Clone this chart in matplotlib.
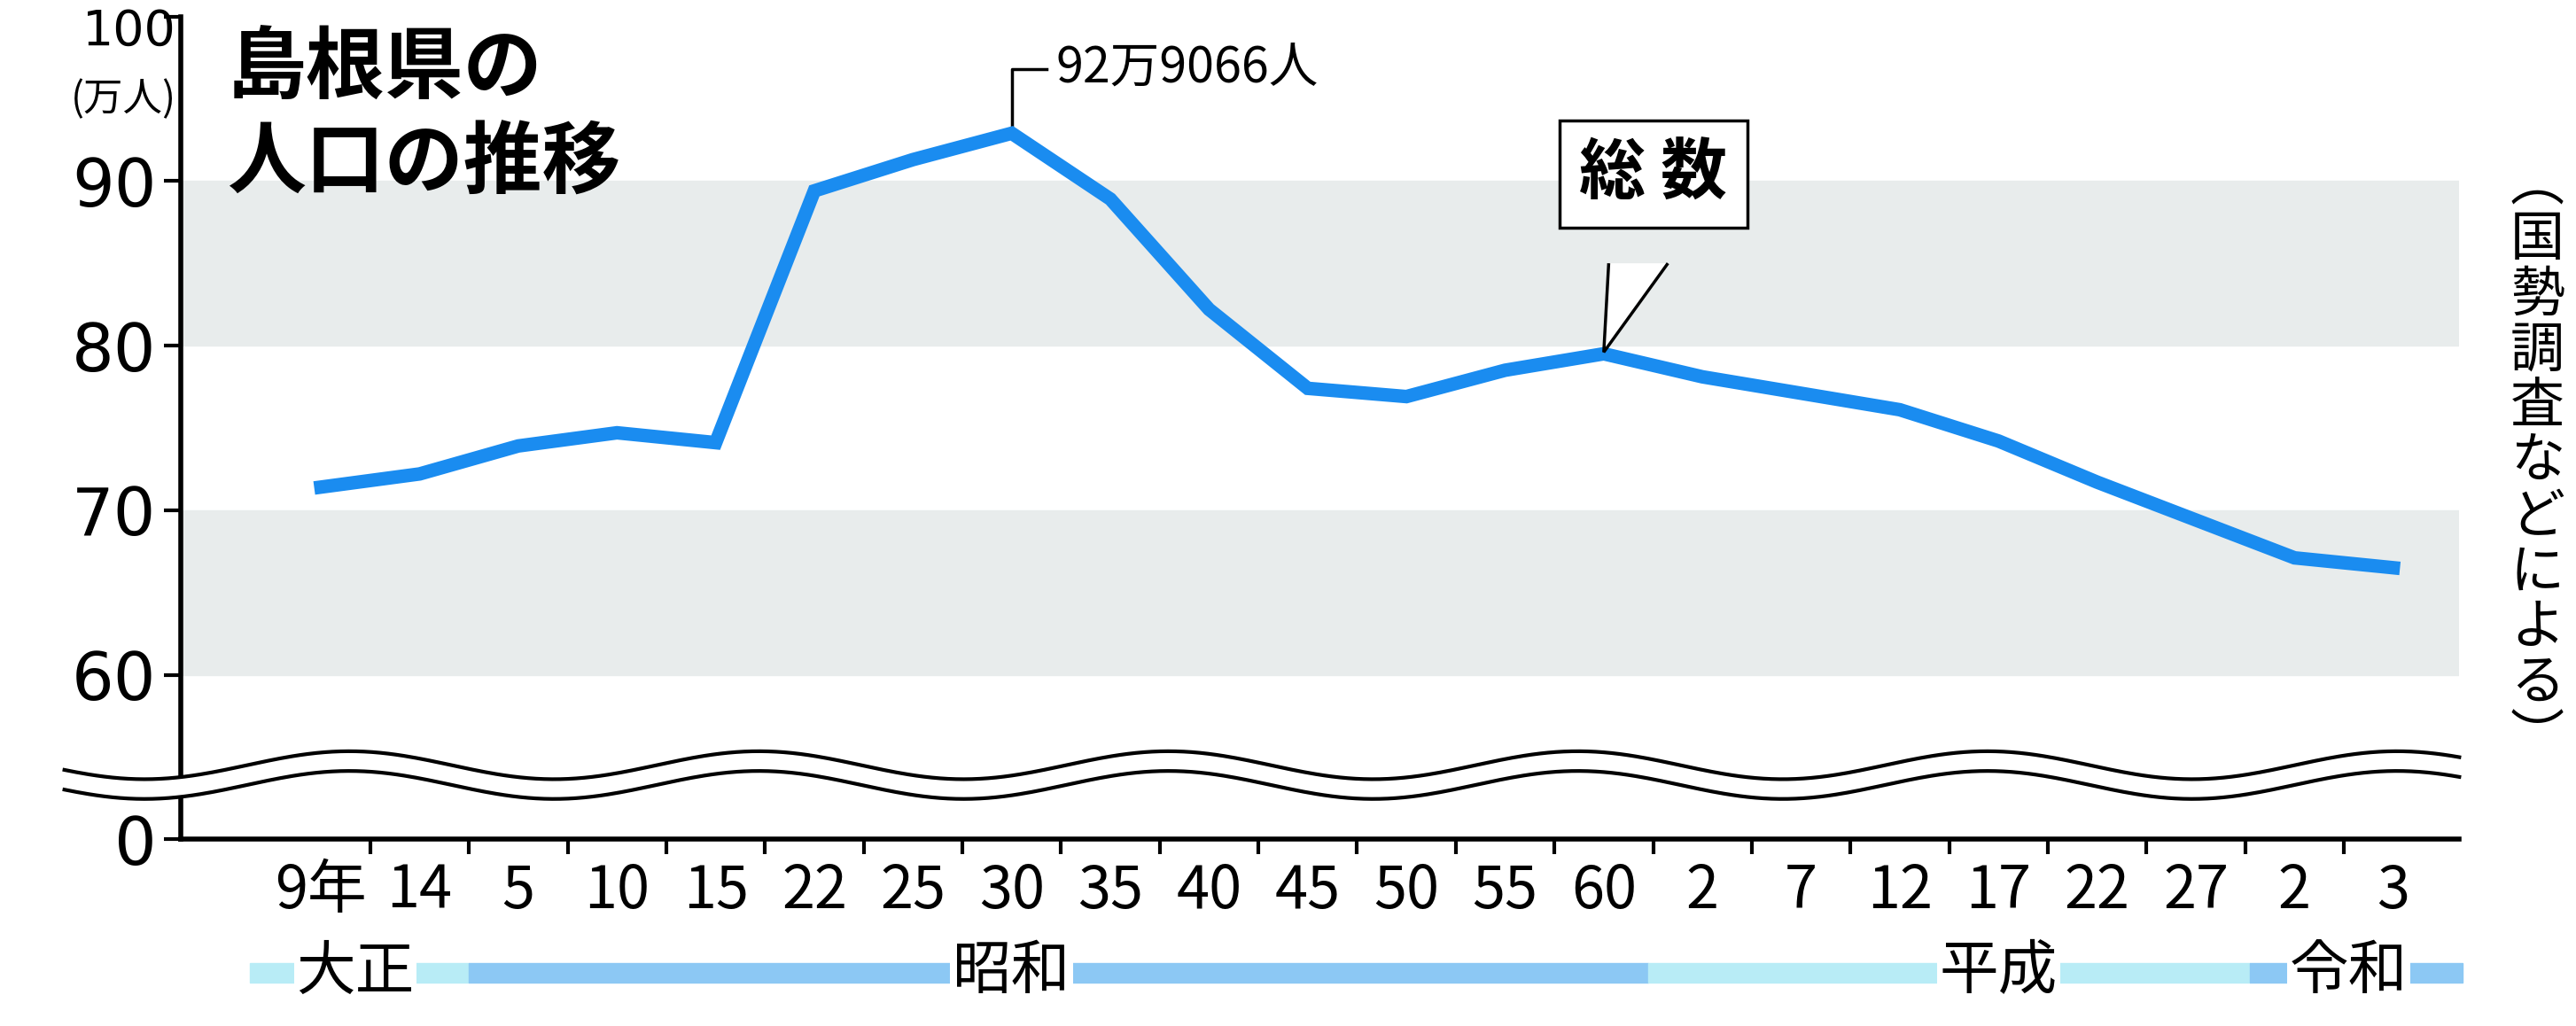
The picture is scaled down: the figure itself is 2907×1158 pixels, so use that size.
import numpy as np
import matplotlib.pyplot as plt
from matplotlib.patches import Rectangle, Polygon

plt.rcParams['font.family'] = ['Noto Sans CJK JP', 'DejaVu Sans']

labels = ["9年","14","5","10","15","22","25","30","35","40","45","50","55","60","2","7","12","17","22","27","2","3"]
pop = [71.4,72.2,73.9,74.7,74.1,89.4,91.3,92.9,88.9,82.2,77.4,76.9,78.5,79.5,78.1,77.1,76.1,74.2,71.7,69.4,67.1,66.5]
ytick_vals = [0,60,70,80,90,100]
eras = [("大正",-0.72,1.5,"#b8ecf6"),("昭和",1.5,13.45,"#8cc8f4"),("平成",13.45,19.55,"#b8ecf6"),("令和",19.55,21.7,"#8cc8f4")]
era_lab_x = {"大正":0.35,"昭和":7.0,"平成":17.0,"令和":20.55}

fig = plt.figure(figsize=(29.07,11.58), dpi=100)
ax = fig.add_axes([0.0702,0.182,0.8845,0.802])
x = np.arange(len(pop))
ax.set_xlim(-1.42,21.67)
ax.set_ylim(50,100)
ax.axhspan(80,90,color="#e8ecec",zorder=0)
ax.axhspan(60,70,color="#e8ecec",zorder=0)
ax.plot(x,pop,color="#1a8cf0",lw=11,solid_joinstyle="miter",zorder=3)

ax.set_yticks([50 if v==0 else v for v in ytick_vals])
ax.set_yticklabels([str(v) if v!=100 else "" for v in ytick_vals], fontsize=54, fontfamily="DejaVu Sans")
ax.text(-1.47,100.5,"100",fontsize=40,ha="right",va="top",fontfamily="DejaVu Sans")
ax.text(-1.47,96.2,"(万人)",fontsize=32,ha="right",va="top")
ax.tick_params(axis="y",length=14,width=3,pad=6)
ax.set_xticks(x)
ax.set_xticklabels(labels,fontsize=48)
ax.set_xticks(x[:-1]+0.5,minor=True)
ax.tick_params(axis="x",which="major",length=0,pad=18)
ax.tick_params(axis="x",which="minor",length=12,width=3)
for s in ["top","right"]:
    ax.spines[s].set_visible(False)
for s in ["left","bottom"]:
    ax.spines[s].set_linewidth(4)

xx = np.linspace(-2.6,21.67,600)
w = 53.9+0.85*np.sin((xx-(-0.75))*2*np.pi/4.15)
ax.fill_between(xx,w-0.6,w+0.6,color="white",zorder=4,clip_on=False)
ax.plot(xx,w+0.6,color="black",lw=3,zorder=5,clip_on=False)
ax.plot(xx,w-0.6,color="black",lw=3,zorder=5,clip_on=False)

for name,a,b,c in eras:
    ax.add_patch(Rectangle((a,41.3),b-a,1.2,color=c,clip_on=False))
    ax.text(era_lab_x[name],41.9,name,fontsize=48,ha="center",va="center",
            bbox=dict(fc="white",ec="none",pad=2),zorder=6)

ax.text(-0.95,99.2,"島根県の\n人口の推移",fontsize=64,fontweight="bold",va="top",ha="left",linespacing=1.25)

ax.plot([7,7,7.35],[92.9,96.8,96.8],color="black",lw=2.5)
ax.text(7.45,96.8,"92万9066人",fontsize=40,va="center",ha="left")

# callout triangle then box
ax.add_patch(Polygon([(13.05,85.0),(13.0,79.6),(13.65,85.0)],closed=False,fc="white",ec="black",lw=2.5,zorder=6))
ax.text(13.5,90.4,"総 数",fontsize=54,fontweight="bold",ha="center",va="center",zorder=7,
        bbox=dict(boxstyle="square,pad=0.3",fc="white",ec="black",lw=2.5))

fig.text(0.985,0.55,"\n".join("︵国勢調査などによる︶"),fontsize=44,ha="center",va="center",linespacing=1.0)
fig.savefig("out.png",dpi=100)
